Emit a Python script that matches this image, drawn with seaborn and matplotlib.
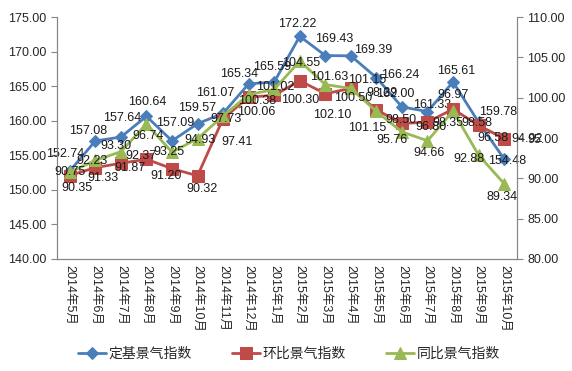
import numpy as np
import pandas as pd
import matplotlib
matplotlib.use("Agg")
import matplotlib.pyplot as plt
import seaborn as sns


# Datos

meses = ["2014年5月", "2014年6月", "2014年7月", "2014年8月", "2014年9月",
         "2014年10月", "2014年11月", "2014年12月", "2015年1月", "2015年2月",
         "2015年3月", "2015年4月", "2015年5月", "2015年6月", "2015年7月",
         "2015年8月", "2015年9月", "2015年10月"]

dingji = [152.74, 157.08, 157.64, 160.64, 157.09, 159.57, 161.07, 165.34,
          165.59, 172.22, 169.43, 169.39, 166.24, 162.00, 161.33, 165.61,
          159.78, 154.48]

huanbi = [90.35, 91.33, 91.87, 92.37, 91.20, 90.32, 97.41, 100.06,
          100.30, 102.10, 100.50, 101.15, 98.50, 96.80, 96.97, 98.58,
          96.58, 94.92]

tongbi = [90.75, 92.23, 93.30, 96.74, 93.25, 94.93, 97.73, 100.38,
          101.02, 104.55, 101.63, 101.15, 98.29, 95.76, 94.66, 98.35,
          92.88, 89.34]

# Desplazamiento de cada etiqueta (pixeles, dx a la derecha, dy hacia abajo)

off_dingji = [(-5, -17), (-7, -10), (1, -19), (1, -14), (3, -18), (0, -16),
              (-8, -20), (-10, -10), (-2, -15), (-2, -12), (9, -17), (22, -6),
              (24, -3), (-7, -13), (5, -7), (3, -11), (20, -10), (3, 2)]
off_huanbi = [(7, 12), (8, 10), (9, 5), (-5, -3), (-6, 7), (4, 13),
              (14, 23), (8, 15), (26, 5), (33, 34), (28, 4), (16, 40),
              (25, 10), (29, 4), (26, -27), (24, 14), (14, 13), (23, 0)]
off_tongbi = [(0, 0), (-3, 1), (-5, -6), (2, 12), (-3, 0), (2, 1),
              (3, 3), (8, 6), (1, -2), (1, 2), (4, -8), (16, -8),
              (6, -18), (-10, 8), (2, 12), (-5, 12), (-10, 4), (-2, 13)]

df = pd.DataFrame({
    "x": np.arange(len(meses)),
    "定基景气指数": dingji,
    "环比景气指数": huanbi,
    "同比景气指数": tongbi,
})

azul = "#4A7EBB"
rojo = "#BE4B48"
verde = "#98B954"
gris = "#868686"

sns.set_style("white")
plt.rcParams["font.family"] = ["Liberation Sans", "Noto Sans CJK SC"]
plt.rcParams["axes.unicode_minus"] = False

fig = plt.figure(figsize=(5.72, 3.71), dpi=100)
ax = fig.add_axes([0.0997, 0.302, 0.804, 0.652])
ax2 = ax.twinx()

sns.lineplot(data=df, x="x", y="定基景气指数", ax=ax, color=azul,
             linewidth=2, marker="D", markersize=6, markeredgecolor=azul,
             label="定基景气指数", legend=False)
sns.lineplot(data=df, x="x", y="环比景气指数", ax=ax2, color=rojo,
             linewidth=2, marker="s", markersize=8, markeredgecolor=rojo,
             label="环比景气指数", legend=False)
sns.lineplot(data=df, x="x", y="同比景气指数", ax=ax2, color=verde,
             linewidth=2, marker="^", markersize=9, markeredgecolor=verde,
             label="同比景气指数", legend=False)

# Etiquetas de datos

fs = 9


def etiquetas(eje, valores, offsets):
    for i, (v, (dx, dy)) in enumerate(zip(valores, offsets)):
        eje.annotate(f"{v:.2f}", (i, v), xytext=(dx, -dy),
                     textcoords="offset pixels", ha="center", va="center",
                     fontsize=fs, color="#1a1a1a", zorder=5)


etiquetas(ax, dingji, off_dingji)
etiquetas(ax2, huanbi, off_huanbi)
etiquetas(ax2, tongbi, off_tongbi)

# Ejes

ax.set_xlim(-0.5, len(meses) - 0.5)
ax.set_ylim(140, 175)
ax2.set_ylim(80, 110)
ax.set_yticks(np.arange(140, 176, 5))
ax2.set_yticks(np.arange(80, 111, 5))
ax.yaxis.set_major_formatter(matplotlib.ticker.FormatStrFormatter("%.2f"))
ax2.yaxis.set_major_formatter(matplotlib.ticker.FormatStrFormatter("%.2f"))

ax.set_xticks(np.arange(len(meses)))
ax.set_xticklabels(meses, rotation=270, fontsize=fs)
ax.set_xticks(np.arange(-0.5, len(meses)), minor=True)
ax.tick_params(axis="x", which="major", length=0, pad=4)
ax.tick_params(axis="x", which="minor", length=4, color=gris, width=0.8,
               direction="out")
ax.tick_params(axis="y", length=4, color=gris, width=0.8, direction="out",
               labelsize=fs, left=True)
ax2.tick_params(axis="y", length=4, color=gris, width=0.8, direction="out",
                labelsize=fs, right=True)

ax.set_xlabel("")
ax.set_ylabel("")
ax2.set_ylabel("")

for a in (ax, ax2):
    a.spines["top"].set_visible(False)
    for s in ("left", "right", "bottom"):
        a.spines[s].set_color(gris)
        a.spines[s].set_linewidth(0.8)
ax.grid(False)
ax2.grid(False)

# Leyenda

h1, l1 = ax.get_legend_handles_labels()
h2, l2 = ax2.get_legend_handles_labels()
fig.legend(h1 + h2, l1 + l2, loc="center", bbox_to_anchor=(0.505, 0.047),
           ncol=3, frameon=False, fontsize=10, handlelength=2,
           columnspacing=2.9, handletextpad=0.2)

plt.savefig("out.png", dpi=100)
plt.close()
